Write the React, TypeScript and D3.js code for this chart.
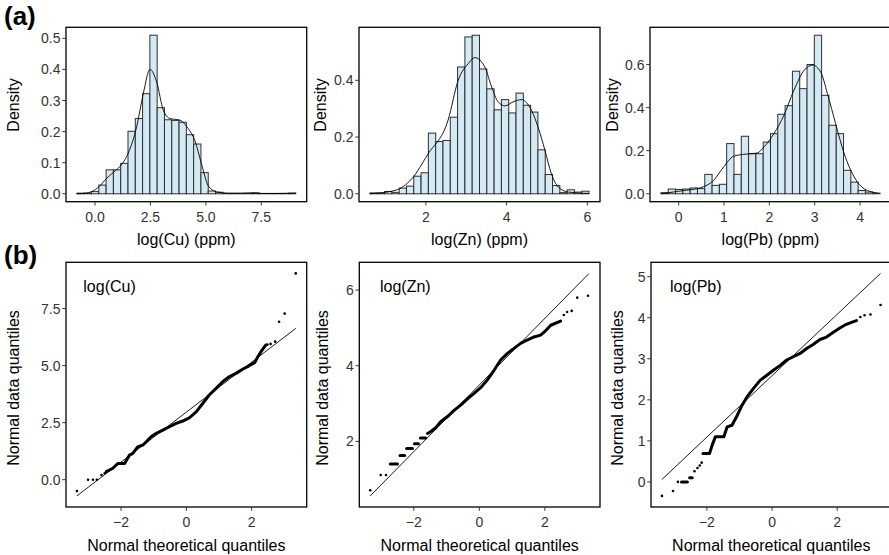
import React from 'react';
import * as d3 from 'd3';

// ---------------- Data ----------------
// Histograms (density scale), 30 bins each
const cuBinStart = -0.815;
const cuBinWidth = 0.329;
const cuBars = [0.002, 0.002, 0.007, 0.028, 0.077, 0.077, 0.098, 0.201, 0.242, 0.322, 0.51, 0.277, 0.238, 0.236, 0.23, 0.19, 0.16, 0.068, 0.009, 0.005, 0.001, 0.001, 0.001, 0.001, 0.003, 0.001, 0.001, 0.001, 0.001, 0.002];
const cuDensX = [-0.82, -0.4, -0.15, 0.2, 0.53, 0.85, 1.13, 1.5, 1.88, 2.18, 2.48, 2.78, 3.08, 3.38, 3.83, 4.2, 4.5, 4.8, 5.1, 5.48, 6.0, 6.6, 7.0, 7.5, 8.2, 9.06];
const cuDensY = [0.0, 0.002, 0.007, 0.024, 0.05, 0.07, 0.088, 0.131, 0.216, 0.323, 0.4, 0.36, 0.269, 0.242, 0.237, 0.21, 0.172, 0.097, 0.027, 0.006, 0.002, 0.002, 0.003, 0.001, 0.001, 0.002];

const znBinStart = 0.613;
const znBinWidth = 0.181;
const znBars = [0.003, 0.003, 0.008, 0.005, 0.02, 0.027, 0.062, 0.074, 0.214, 0.184, 0.188, 0.27, 0.447, 0.553, 0.559, 0.44, 0.37, 0.296, 0.332, 0.285, 0.355, 0.312, 0.288, 0.155, 0.068, 0.029, 0.004, 0.014, 0.006, 0.009];
const znDensX = [0.61, 1.24, 1.65, 2.05, 2.55, 2.8, 3.05, 3.21, 3.46, 3.63, 3.79, 3.96, 4.16, 4.37, 4.57, 4.78, 4.95, 5.11, 5.28, 5.53, 6.04];
const znDensY = [0.0, 0.012, 0.053, 0.14, 0.26, 0.4, 0.459, 0.48, 0.447, 0.376, 0.324, 0.31, 0.324, 0.332, 0.306, 0.235, 0.153, 0.07, 0.024, 0.006, 0.001];

const pbBinStart = -0.39;
const pbBinWidth = 0.161;
const pbBars = [0.005, 0.022, 0.02, 0.022, 0.027, 0.024, 0.09, 0.039, 0.044, 0.233, 0.09, 0.267, 0.186, 0.186, 0.24, 0.279, 0.369, 0.409, 0.569, 0.488, 0.6, 0.736, 0.457, 0.318, 0.279, 0.109, 0.054, 0.015, 0.008, 0.003];
const pbDensX = [-0.39, 0.11, 0.48, 0.77, 0.99, 1.21, 1.43, 1.73, 1.88, 2.1, 2.32, 2.54, 2.77, 2.95, 3.13, 3.28, 3.46, 3.65, 3.87, 4.09, 4.39];
const pbDensY = [0.0, 0.015, 0.028, 0.062, 0.124, 0.174, 0.183, 0.189, 0.217, 0.279, 0.364, 0.48, 0.574, 0.597, 0.566, 0.465, 0.326, 0.186, 0.078, 0.023, 0.003];

// Tick values / labels
const cuHistXTicks = [0, 2.5, 5, 7.5];
const cuHistXLabels = ['0.0', '2.5', '5.0', '7.5'];
const cuHistYTicks = [0, 0.1, 0.2, 0.3, 0.4, 0.5];
const cuHistYLabels = ['0.0', '0.1', '0.2', '0.3', '0.4', '0.5'];
const znHistXTicks = [2, 4, 6];
const znHistXLabels = ['2', '4', '6'];
const znHistYTicks = [0, 0.2, 0.4];
const znHistYLabels = ['0.0', '0.2', '0.4'];
const pbHistXTicks = [0, 1, 2, 3, 4];
const pbHistXLabels = ['0', '1', '2', '3', '4'];
const pbHistYTicks = [0, 0.2, 0.4, 0.6];
const pbHistYLabels = ['0.0', '0.2', '0.4', '0.6'];

// QQ plots: runs of points [theoretical, sample]; single-point runs are isolated dots
const cuQQRuns: number[][][] = [
  [[-3.35, -0.5]],
  [[-3.01, 0.0]], [[-2.86, 0.0]], [[-2.74, 0.0]],
  [[-2.6, 0.2]], [[-2.5, 0.28]],
  [[-2.45, 0.35], [-2.25, 0.5], [-2.1, 0.71], [-1.89, 0.71], [-1.74, 1.08], [-1.64, 1.15], [-1.49, 1.44], [-1.33, 1.52], [-1.23, 1.66], [-1.08, 1.88], [-0.92, 2.03], [-0.72, 2.17], [-0.52, 2.32], [-0.31, 2.47], [-0.11, 2.57], [0.09, 2.71], [0.3, 2.97], [0.5, 3.34], [0.7, 3.71], [0.91, 4.0], [1.11, 4.29], [1.31, 4.51], [1.52, 4.66], [1.72, 4.84], [1.92, 4.99], [2.1, 5.14], [2.17, 5.34], [2.28, 5.6], [2.43, 5.9]],
  [[2.48, 5.92]], [[2.58, 5.95]], [[2.72, 6.05]],
  [[2.84, 6.92]], [[3.01, 7.28]], [[3.35, 9.04]],
];
const cuQQLine = [[-3.35, -0.71], [3.35, 6.63]];

const znQQRuns: number[][][] = [
  [[-3.33, 0.71]],
  [[-3.01, 1.11]], [[-2.85, 1.11]],
  [[-2.72, 1.4], [-2.5, 1.4]],
  [[-2.42, 1.63], [-2.28, 1.63]],
  [[-2.22, 1.81], [-2.04, 1.81]],
  [[-1.98, 1.94], [-1.86, 1.94]],
  [[-1.8, 2.09], [-1.64, 2.09]],
  [[-1.58, 2.21], [-1.48, 2.26], [-1.33, 2.36], [-1.18, 2.52], [-0.98, 2.65], [-0.77, 2.82], [-0.57, 2.96], [-0.37, 3.12], [-0.16, 3.27], [0.04, 3.42], [0.24, 3.62], [0.45, 3.88], [0.65, 4.15], [0.85, 4.32], [1.06, 4.46], [1.26, 4.59], [1.46, 4.68], [1.67, 4.76], [1.87, 4.81], [1.97, 4.88], [2.18, 5.07], [2.48, 5.18]],
  [[2.58, 5.34]], [[2.68, 5.42]], [[2.82, 5.45]],
  [[2.99, 5.8]], [[3.32, 5.85]],
];
const znQQLine = [[-3.33, 0.56], [3.35, 6.44]];

const pbQQRuns: number[][][] = [
  [[-3.38, -0.34]],
  [[-3.04, -0.22]],
  [[-2.89, 0.0]],
  [[-2.78, 0.0], [-2.6, 0.0]],
  [[-2.53, 0.1], [-2.45, 0.1]],
  [[-2.38, 0.26]], [[-2.29, 0.34]], [[-2.22, 0.4]], [[-2.16, 0.47]],
  [[-2.12, 0.69], [-1.92, 0.69], [-1.84, 0.89], [-1.74, 1.1], [-1.48, 1.1], [-1.38, 1.34], [-1.23, 1.38], [-1.07, 1.62], [-0.92, 1.87], [-0.77, 2.07], [-0.57, 2.28], [-0.36, 2.48], [-0.16, 2.6], [0.04, 2.72], [0.25, 2.84], [0.45, 2.97], [0.65, 3.05], [0.86, 3.13], [1.06, 3.25], [1.26, 3.35], [1.47, 3.47], [1.67, 3.53], [1.87, 3.64], [2.08, 3.75], [2.28, 3.84], [2.48, 3.9], [2.59, 3.93]],
  [[2.71, 4.02]], [[2.84, 4.06]], [[3.02, 4.08]],
  [[3.33, 4.31]],
];
const pbQQLine = [[-3.38, 0.06], [3.33, 5.08]];

const qqXTicks = [-2, 0, 2];
const qqXLabels = ['\u22122', '0', '2'];
const cuQQYTicks = [0, 2.5, 5, 7.5];
const cuQQYLabels = ['0.0', '2.5', '5.0', '7.5'];
const znQQYTicks = [2, 4, 6];
const znQQYLabels = ['2', '4', '6'];
const pbQQYTicks = [0, 1, 2, 3, 4, 5];
const pbQQYLabels = ['0', '1', '2', '3', '4', '5'];

const histTitles = ['log(Cu) (ppm)', 'log(Zn) (ppm)', 'log(Pb) (ppm)'];
const qqTags = ['log(Cu)', 'log(Zn)', 'log(Pb)'];

// ---------------- Layout / style ----------------
const W = 889;
const H = 555;
const FONT = 'Liberation Sans, Arial, Helvetica, sans-serif';
const TOP = { y0: 27.3, y1: 201.7 };
const BOT = { y0: 262.3, y1: 507 };
const topCols = [[66, 306.7], [359, 600], [650, 891]];
const botCols = [[66, 306.7], [359.3, 600], [651, 891.5]];
const histYTitleX = [19, 325.5, 617.5];
const qqYTitleX = [19, 327.5, 622.5];
const qqTagX = [83.3, 380, 670];
const TICK = 3.7;
const AXIS_COL = '#333333';

type HistProps = {
  x0: number; x1: number; y0: number; y1: number;
  binStart: number; binWidth: number; bars: number[];
  densX: number[]; densY: number[];
  xTicks: number[]; xLabels: string[]; yTicks: number[]; yLabels: string[];
  xTitle: string; yTitleX: number;
};

function HistPanel(p: HistProps) {
  const n = p.bars.length;
  const lo = p.binStart;
  const hi = p.binStart + n * p.binWidth;
  const span = hi - lo;
  const x = d3.scaleLinear().domain([lo - 0.05 * span, hi + 0.05 * span]).range([p.x0, p.x1]);
  const ymax = d3.max(p.bars) as number;
  const y = d3.scaleLinear().domain([-0.05 * ymax, 1.05 * ymax]).range([p.y1, p.y0]);
  const line = d3.line<number>()
    .x((_, i) => x(p.densX[i]))
    .y((d) => y(d))
    .curve(d3.curveMonotoneX);
  const clipId = 'clipH' + Math.round(p.x0);
  return (
    <g>
      <defs>
        <clipPath id={clipId}>
          <rect x={p.x0} y={p.y0} width={p.x1 - p.x0} height={p.y1 - p.y0} />
        </clipPath>
      </defs>
      <g clipPath={`url(#${clipId})`}>
        {p.bars.map((v, i) => {
          const a = p.binStart + i * p.binWidth;
          const b = a + p.binWidth;
          return (
            <rect key={i} x={x(a)} y={y(v)} width={x(b) - x(a)} height={Math.max(0, y(0) - y(v))}
              fill="#d3e9f4" stroke="#2e2e2e" strokeWidth={1} />
          );
        })}
        <path d={line(p.densY) || ''} fill="none" stroke="#000" strokeWidth={0.9} />
      </g>
      <rect x={p.x0} y={p.y0} width={p.x1 - p.x0} height={p.y1 - p.y0} fill="none" stroke="#000" strokeWidth={1.3} />
      {p.xTicks.map((t, i) => (
        <g key={'xt' + i}>
          <line x1={x(t)} x2={x(t)} y1={p.y1} y2={p.y1 + TICK} stroke={AXIS_COL} strokeWidth={1} />
          <text x={x(t)} y={p.y1 + 20} textAnchor="middle" fontSize={14} fill={AXIS_COL} fontFamily={FONT}>{p.xLabels[i]}</text>
        </g>
      ))}
      {p.yTicks.map((t, i) => (
        <g key={'yt' + i}>
          <line x1={p.x0 - TICK} x2={p.x0} y1={y(t)} y2={y(t)} stroke={AXIS_COL} strokeWidth={1} />
          <text x={p.x0 - 5.5} y={y(t) + 5} textAnchor="end" fontSize={14} fill={AXIS_COL} fontFamily={FONT}>{p.yLabels[i]}</text>
        </g>
      ))}
      <text x={(p.x0 + p.x1) / 2} y={p.y1 + 43} textAnchor="middle" fontSize={16} fill="#000" fontFamily={FONT}>{p.xTitle}</text>
      <text transform={`translate(${p.yTitleX},105) rotate(-90)`} textAnchor="middle" fontSize={16} fill="#000" fontFamily={FONT}>Density</text>
    </g>
  );
}

type QQProps = {
  x0: number; x1: number; y0: number; y1: number;
  runs: number[][][]; qline: number[][];
  yTicks: number[]; yLabels: string[]; tag: string; tagX: number; yTitleX: number;
};

function QQPanel(p: QQProps) {
  const pts = p.runs.flat().concat(p.qline);
  const xs = pts.map((d) => d[0]);
  const ys = pts.map((d) => d[1]);
  const [xa, xb] = d3.extent(xs) as [number, number];
  const [ya, yb] = d3.extent(ys) as [number, number];
  const xr = xb - xa;
  const yr = yb - ya;
  const x = d3.scaleLinear().domain([xa - 0.05 * xr, xb + 0.05 * xr]).range([p.x0, p.x1]);
  const y = d3.scaleLinear().domain([ya - 0.05 * yr, yb + 0.05 * yr]).range([p.y1, p.y0]);
  const line = d3.line<number[]>().x((d) => x(d[0])).y((d) => y(d[1]));
  return (
    <g>
      <path d={line(p.qline) || ''} stroke="#000" strokeWidth={0.9} fill="none" />
      {p.runs.map((r, i) =>
        r.length === 1 ? (
          <circle key={i} cx={x(r[0][0])} cy={y(r[0][1])} r={1.3} fill="#000" />
        ) : (
          <path key={i} d={line(r) || ''} stroke="#000" strokeWidth={3} strokeLinecap="round" strokeLinejoin="round" fill="none" />
        )
      )}
      <rect x={p.x0} y={p.y0} width={p.x1 - p.x0} height={p.y1 - p.y0} fill="none" stroke="#000" strokeWidth={1.3} />
      <text x={p.tagX} y={p.y0 + 30} fontSize={16} fill="#000" fontFamily={FONT}>{p.tag}</text>
      {qqXTicks.map((t, i) => (
        <g key={'xt' + i}>
          <line x1={x(t)} x2={x(t)} y1={p.y1} y2={p.y1 + TICK} stroke={AXIS_COL} strokeWidth={1} />
          <text x={x(t)} y={p.y1 + 20} textAnchor="middle" fontSize={14} fill={AXIS_COL} fontFamily={FONT}>{qqXLabels[i]}</text>
        </g>
      ))}
      {p.yTicks.map((t, i) => (
        <g key={'yt' + i}>
          <line x1={p.x0 - TICK} x2={p.x0} y1={y(t)} y2={y(t)} stroke={AXIS_COL} strokeWidth={1} />
          <text x={p.x0 - 5.5} y={y(t) + 5} textAnchor="end" fontSize={14} fill={AXIS_COL} fontFamily={FONT}>{p.yLabels[i]}</text>
        </g>
      ))}
      <text x={(p.x0 + p.x1) / 2} y={p.y1 + 44} textAnchor="middle" fontSize={16} fill="#000" fontFamily={FONT}>Normal theoretical quantiles</text>
      <text transform={`translate(${p.yTitleX},388) rotate(-90)`} textAnchor="middle" fontSize={16} fill="#000" fontFamily={FONT}>Normal data quantiles</text>
    </g>
  );
}

export default function App() {
  const hist = [
    { binStart: cuBinStart, binWidth: cuBinWidth, bars: cuBars, densX: cuDensX, densY: cuDensY, xTicks: cuHistXTicks, xLabels: cuHistXLabels, yTicks: cuHistYTicks, yLabels: cuHistYLabels },
    { binStart: znBinStart, binWidth: znBinWidth, bars: znBars, densX: znDensX, densY: znDensY, xTicks: znHistXTicks, xLabels: znHistXLabels, yTicks: znHistYTicks, yLabels: znHistYLabels },
    { binStart: pbBinStart, binWidth: pbBinWidth, bars: pbBars, densX: pbDensX, densY: pbDensY, xTicks: pbHistXTicks, xLabels: pbHistXLabels, yTicks: pbHistYTicks, yLabels: pbHistYLabels },
  ];
  const qq = [
    { runs: cuQQRuns, qline: cuQQLine, yTicks: cuQQYTicks, yLabels: cuQQYLabels },
    { runs: znQQRuns, qline: znQQLine, yTicks: znQQYTicks, yLabels: znQQYLabels },
    { runs: pbQQRuns, qline: pbQQLine, yTicks: pbQQYTicks, yLabels: pbQQYLabels },
  ];
  return (
    <svg width={W} height={H} viewBox={`0 0 ${W} ${H}`} style={{ position: 'absolute', left: 0, top: 0, background: '#fff' }}>
      <rect x={0} y={0} width={W} height={H} fill="#fff" />
      {hist.map((h, i) => (
        <HistPanel key={i} x0={topCols[i][0]} x1={topCols[i][1]} y0={TOP.y0} y1={TOP.y1} {...h}
          xTitle={histTitles[i]} yTitleX={histYTitleX[i]} />
      ))}
      {qq.map((q, i) => (
        <QQPanel key={i} x0={botCols[i][0]} x1={botCols[i][1]} y0={BOT.y0} y1={BOT.y1} {...q}
          tag={qqTags[i]} tagX={qqTagX[i]} yTitleX={qqYTitleX[i]} />
      ))}
      <text x={4} y={25} fontSize={26} fontWeight="bold" fill="#000" fontFamily={FONT}>(a)</text>
      <text x={4} y={263.5} fontSize={26} fontWeight="bold" fill="#000" fontFamily={FONT}>(b)</text>
    </svg>
  );
}
